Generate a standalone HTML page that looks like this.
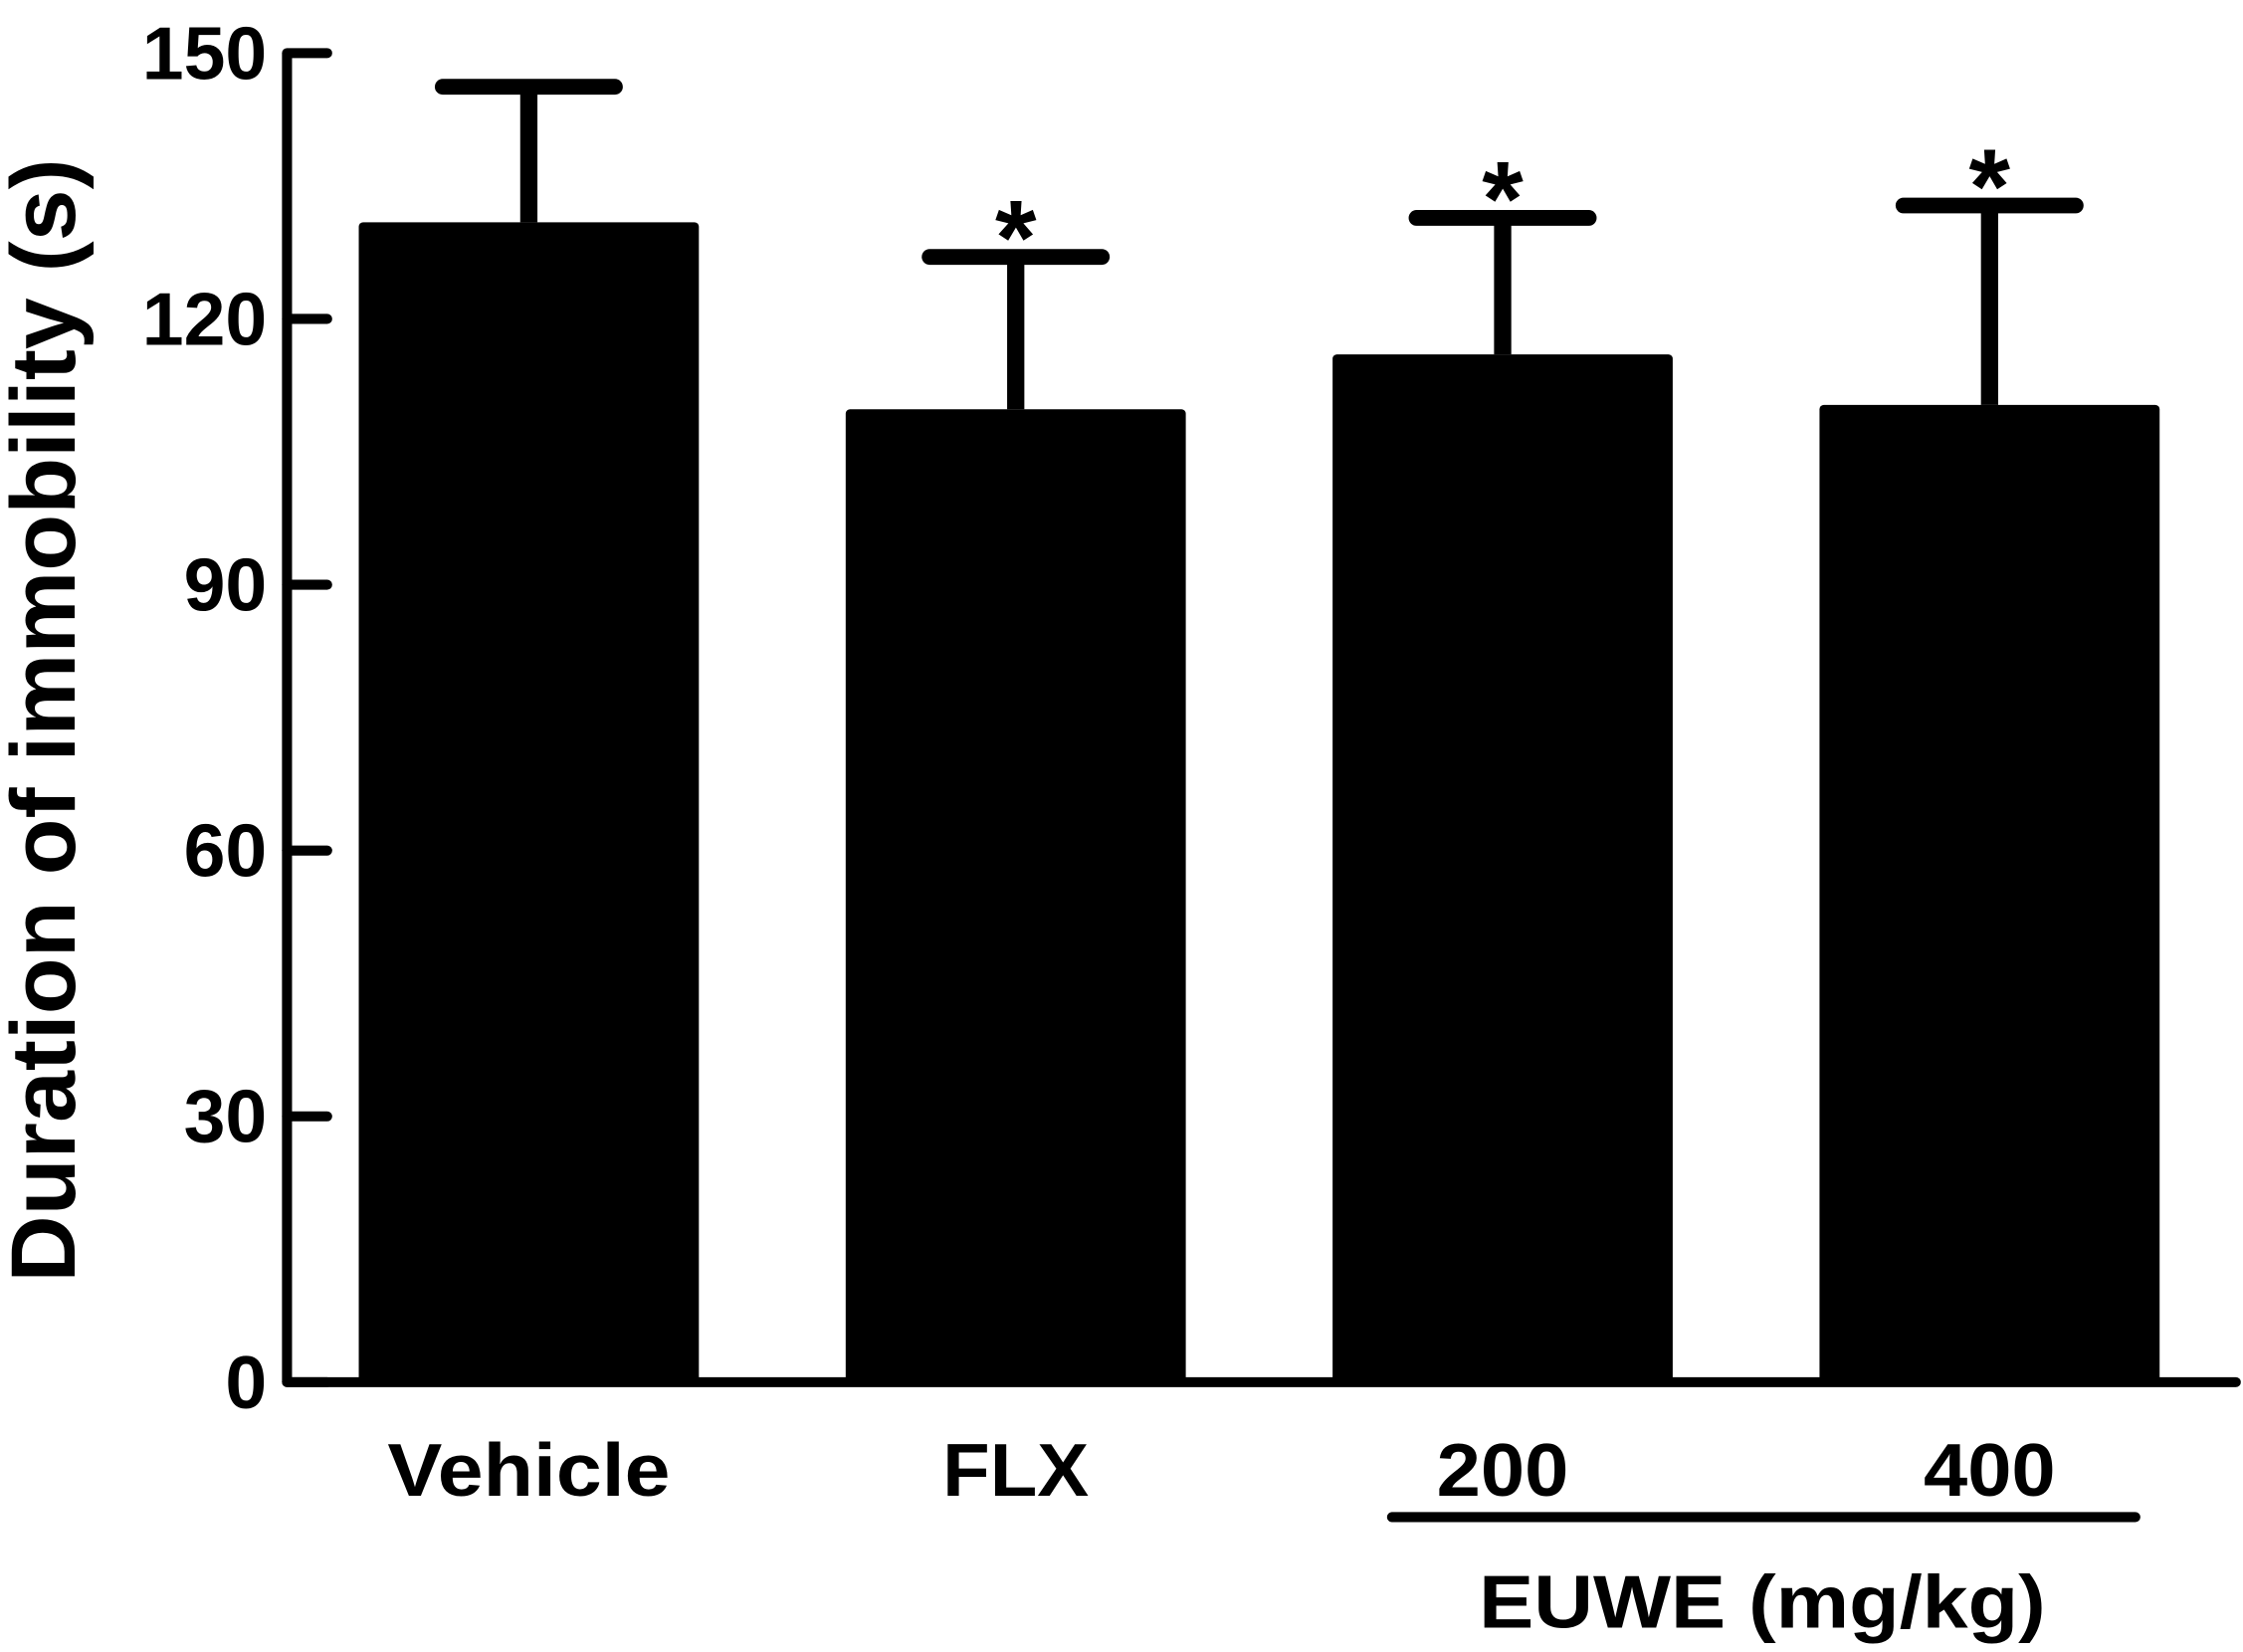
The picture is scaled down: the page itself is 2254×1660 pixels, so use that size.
<!DOCTYPE html>
<html><head><meta charset="utf-8"><style>
html,body{margin:0;padding:0;background:#fff;}
svg{display:block;}
text{font-family:"Liberation Sans",sans-serif;font-weight:bold;fill:#000;}
</style></head><body>
<svg id="chart" width="2254" height="1660" viewBox="0 0 1563 1151" preserveAspectRatio="none" xmlns="http://www.w3.org/2000/svg">
<g id="marks"></g>
</svg>
<script>
const categories = ["Vehicle", "FLX", "200", "400"];
const means = [130.9, 109.8, 116.0, 110.3];
const errors = [15.3, 17.2, 15.4, 22.5];
const significant = [false, true, true, true];
const yTicks = [0, 30, 60, 90, 120, 150];

const NS = "http://www.w3.org/2000/svg";
const g = document.getElementById("marks");
const x0 = 200, x1 = 1558, yBase = 963, yTop = 37, yMax = 150;
const y = v => yBase - (v / yMax) * (yBase - yTop);
const barW = 237, firstBar = 250, barStep = 339.3;
const xBar = i => firstBar + i * barStep;
const charW = 29;

function mk(tag, attrs, text) {
  const e = document.createElementNS(NS, tag);
  for (const k in attrs) e.setAttribute(k, attrs[k]);
  if (text !== undefined) e.textContent = text;
  g.appendChild(e);
  return e;
}

categories.forEach((c, i) => {
  const bx = xBar(i), cx = bx + barW / 2;
  const bar = mk("rect", {x: bx, y: y(means[i]), width: barW, height: yBase - y(means[i]), fill: "#000", rx: 3});
  
  
  const top = y(means[i] + errors[i]);
  const ev = mk("line", {x1: cx, x2: cx, y1: y(means[i]), y2: top, stroke: "#000", "stroke-width": 12});
  
  
  const cap = mk("line", {x1: cx - 60, x2: cx + 60, y1: top, y2: top, stroke: "#000", "stroke-width": 11, "stroke-linecap": "round"});
  
  
  if (significant[i]) {
    const s = mk("text", {x: cx, y: top + 12, "text-anchor": "middle", "font-size": 74}, "*");
    
    
  }
  const lw = c === "Vehicle" ? 197 : c === "FLX" ? 102 : 92;
  const lb = mk("text", {x: cx, y: 1042, "text-anchor": "middle", "font-size": 52, textLength: lw, lengthAdjust: "spacingAndGlyphs"}, c);
  
  
});

const xa = mk("line", {x1: x0, x2: x1, y1: yBase, y2: yBase, stroke: "#000", "stroke-width": 7, "stroke-linecap": "round"});


const ya = mk("line", {x1: x0, x2: x0, y1: yTop, y2: yBase, stroke: "#000", "stroke-width": 7});



yTicks.forEach(t => {
  const tk = mk("line", {x1: x0, x2: 228, y1: y(t), y2: y(t), stroke: "#000", "stroke-width": 7, "stroke-linecap": "round"});
  
  
  const s = String(t);
  const tl = mk("text", {x: 186, y: y(t) + 18, "text-anchor": "end", "font-size": 52, textLength: s.length * charW, lengthAdjust: "spacingAndGlyphs"}, s);
  
  
});

const ul = mk("line", {x1: 970, x2: 1488, y1: 1057, y2: 1057, stroke: "#000", "stroke-width": 7, "stroke-linecap": "round"});


const gl = mk("text", {x: 1228, y: 1134, "text-anchor": "middle", "font-size": 52, textLength: 395, lengthAdjust: "spacingAndGlyphs"}, "EUWE (mg/kg)");



const yt = mk("text", {x: 0, y: 0, "text-anchor": "middle", "font-size": 64, textLength: 783, lengthAdjust: "spacingAndGlyphs", transform: "translate(52,502) rotate(-90)"}, "Duration of immobility (s)");


</script>
</body></html>
